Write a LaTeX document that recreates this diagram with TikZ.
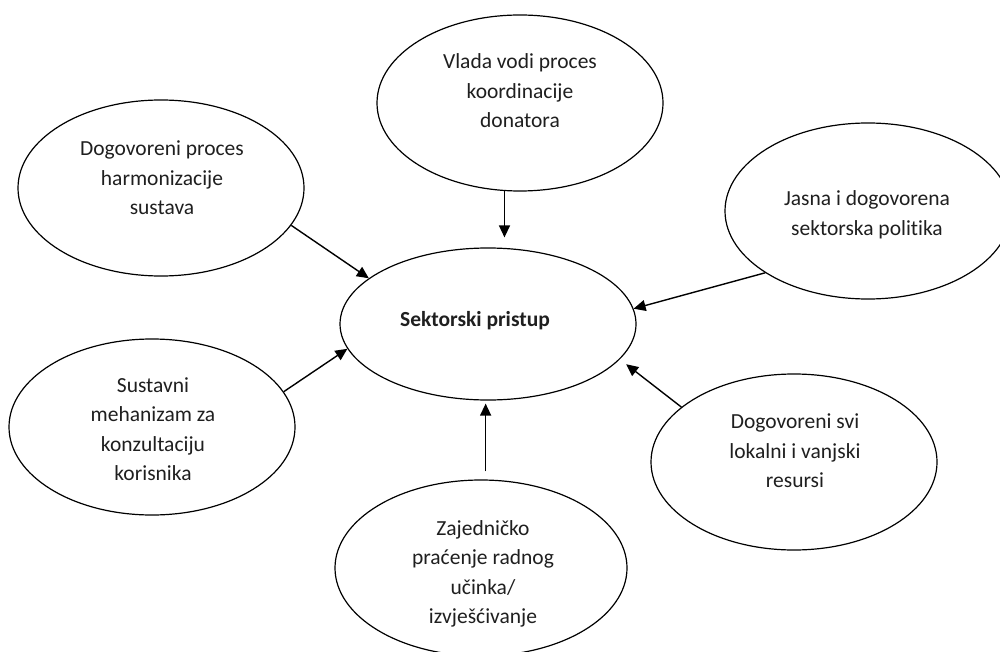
\documentclass[tikz,border=0pt]{standalone}
\usepackage{fontspec}
\setmainfont{Carlito}[Ligatures=NoCommon]
\usetikzlibrary{shapes.geometric,arrows.meta}
\begin{document}
\begin{tikzpicture}[x=1pt,y=-1pt,
  ell/.style={ellipse, draw, line width=1.2pt, inner sep=0pt,
              minimum width=286pt, minimum height=176pt},
  txt/.style={align=center, font=\fontsize{21.5pt}{29.5pt}\selectfont, text=black!88, inner sep=0pt},
  arr/.style={line width=1.4pt, -{Triangle[length=12pt,width=11pt]}}]
\useasboundingbox (0,0) rectangle (1000,652);
\fill[white] (0,0) rectangle (1000,652);
\clip (0,0) rectangle (1000,652);
% ellipses
\node[ell, minimum width=296pt, minimum height=152pt] (c) at (488,324) {};
\node[ell] (top) at (520,103) {};
\node[ell] (tl)  at (161,188) {};
\node[ell] (jr)  at (868,211) {};
\node[ell] (sl)  at (152,427) {};
\node[ell] (br)  at (794,462) {};
\node[ell, minimum width=292pt] (bt) at (481,568) {};
% texts
\node[txt, font=\fontsize{21.5pt}{29.5pt}\selectfont\bfseries] (cT) at (475,321) {Sektorski pristup};
\node[txt] (topT) at (520,91) {Vlada vodi proces\\koordinacije\\donatora};
\node[txt] (tlT)  at (162,178) {Dogovoreni proces\\harmonizacije\\sustava};
\node[txt] (jrT)  at (867,215) {Jasna i dogovorena\\sektorska politika};
\node[txt] (slT)  at (153,429) {Sustavni\\mehanizam za\\konzultaciju\\korisnika};
\node[txt] (brT)  at (795,451) {Dogovoreni svi\\lokalni i vanjski\\resursi};
\node[txt] (btT)  at (483,574) {Zajedničko\\praćenje radnog\\učinka/\\izvješćivanje};
% connectors
\draw[arr] (tl.-16) -- (c.159.6);
\draw[arr, shorten >=10pt] (top.-100) -- (top.-100 |- c.north);
\draw[arr] (jr.-149) -- (c.6.5);
\draw[arr] (sl.15.3) -- (c.-170.7);
\draw[arr, shorten >=8pt] (br.154) -- (c.-15.8);
\draw[arr, shorten <=8pt, shorten >=3pt] (bt.87) -- (bt.87 |- c.south);
\end{tikzpicture}
\end{document}
